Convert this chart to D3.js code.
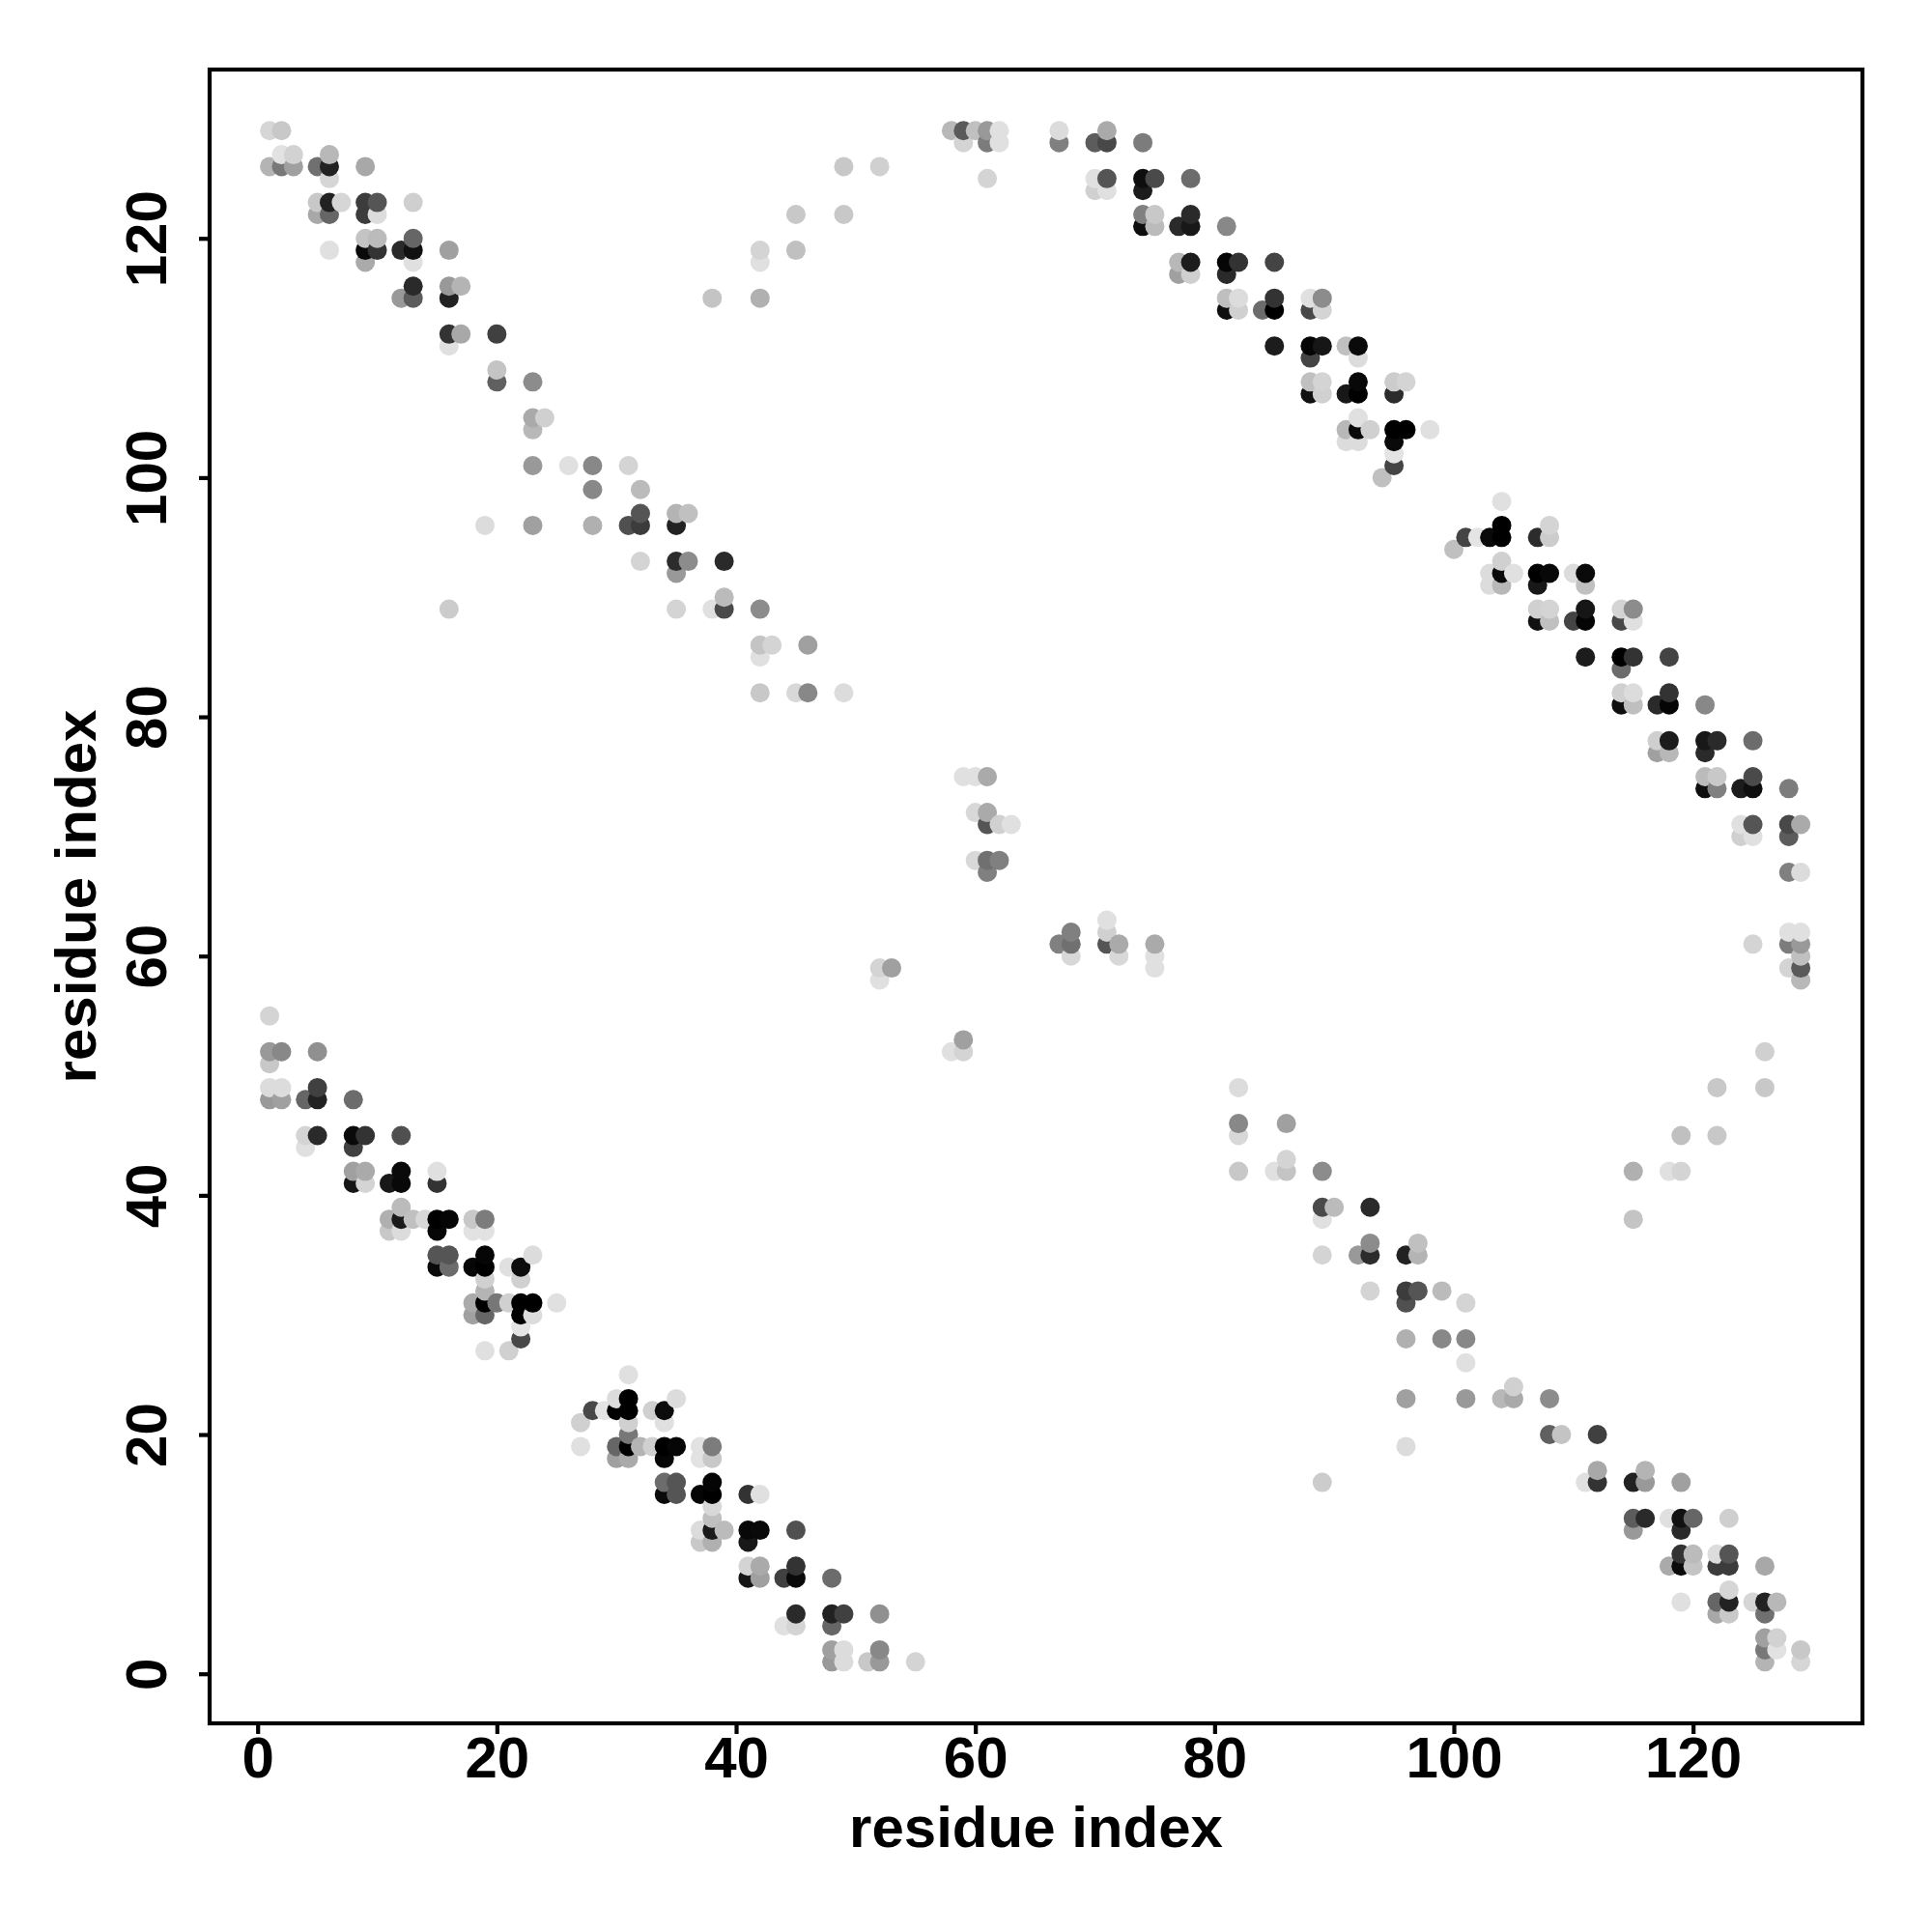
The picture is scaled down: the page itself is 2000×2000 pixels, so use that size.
<!DOCTYPE html>
<html>
<head>
<meta charset="utf-8">
<script src="https://cdn.jsdelivr.net/npm/d3@7"></script>
<style>html,body{margin:0;padding:0;background:#fff}svg{display:block}</style>
</head>
<body>
<svg id="chart" width="2000" height="2000"></svg>
<script>
// Each contact is [residue i, residue j, grey level]. The map is symmetric: each is also drawn at (j, i).
const contactsInnerBand = [
[1,55,212],[1,52,153],[2,52,136],[5,52,144],[1,51,200],[1,49,220],[2,49,220],[5,49,64],[1,48,153],[2,48,160],[4,48,102],[5,48,34],[8,48,108],
[4,45,212],[5,45,42],[8,45,10],[9,45,51],[12,45,80],[4,44,224],[8,44,64],[8,42,160],[9,42,170],[12,42,10],[15,42,224],[8,41,22],[9,41,212],[11,41,24],[12,41,8],[15,41,51],
[12,39,187],[11,38,176],[12,38,26],[13,38,192],[14,38,216],[15,38,0],[16,38,5],[18,38,200],[19,38,124],[11,37,200],[12,37,220],[15,37,6],[18,37,226],[19,37,226],
[15,35,85],[16,35,85],[19,35,6],[23,35,220],[15,34,10],[16,34,108],[18,34,6],[19,34,0],[21,34,224],[22,34,12],[19,33,208],[22,33,208],[19,32,180],
[18,31,170],[19,31,0],[20,31,119],[21,31,208],[22,31,0],[23,31,0],[25,31,224],[18,30,160],[19,30,102],[22,30,0],[23,30,220],[22,29,228],[22,28,72],[19,27,224],[21,27,208]
];
const contactsOuterBand = [
[1,129,214],[2,129,200],[2,127,226],[3,127,210],[6,127,184],[1,126,180],[2,126,120],[3,126,160],[5,126,112],[6,126,34],[9,126,168],[49,126,200],[52,126,208],[6,125,214],
[5,123,200],[6,123,34],[7,123,214],[9,123,60],[10,123,85],[13,123,207],[5,122,168],[6,122,102],[9,122,60],[10,122,220],[45,122,200],[49,122,200],
[9,120,196],[10,120,187],[13,120,102],[6,119,224],[9,119,10],[10,119,51],[12,119,42],[13,119,17],[16,119,160],[42,119,212],[45,119,192],[9,118,170],[13,118,224],[42,118,224],
[13,116,42],[16,116,153],[17,116,180],[12,115,153],[13,115,92],[16,115,34],[38,115,196],[42,115,176],[16,112,51],[17,112,168],[20,112,64],[16,111,224],
[20,109,196],[20,108,96],[23,108,140],[23,105,170],[24,105,208],[23,104,184],[23,101,153],[26,101,224],[28,101,136],[31,101,212],[28,99,136],[32,99,187],
[32,97,85],[35,97,180],[36,97,192],[19,96,220],[23,96,160],[28,96,176],[31,96,80],[32,96,60],[35,96,34],[32,93,212],[35,93,44],[36,93,140],[39,93,42],[35,92,153],[39,90,187],
[16,89,204],[35,89,212],[38,89,224],[39,89,74],[42,89,140],[42,86,196],[43,86,212],[46,86,160],[42,85,224],[42,82,200],[45,82,216],[46,82,136],[49,82,220]
];
const contactsUpperBand = [
[58,129,184],[59,129,90],[60,129,192],[61,129,153],[62,129,224],[67,129,220],[71,129,170],[59,128,212],[61,128,124],[62,128,224],[67,128,128],[70,128,92],[71,128,72],[74,128,124],
[61,125,212],[70,125,224],[71,125,85],[74,125,14],[75,125,74],[78,125,108],[70,124,208],[71,124,224],[74,124,28],[74,122,128],[75,122,200],[78,122,42],[74,121,14],[75,121,187],[77,121,42],[78,121,24],[81,121,136],
[77,118,184],[78,118,28],[81,118,5],[82,118,51],[85,118,68],[77,117,160],[78,117,207],[81,117,42],[81,115,191],[82,115,220],[85,115,51],[88,115,224],[89,115,140],[81,114,14],[82,114,208],[84,114,108],[85,114,0],[88,114,72],[89,114,212],
[85,111,28],[88,111,5],[89,111,22],[91,111,192],[92,111,10],[88,110,68],[92,110,220],[88,108,192],[89,108,212],[92,108,8],[95,108,204],[96,108,212],[88,107,17],[89,107,208],[91,107,24],[92,107,0],[95,107,44],
[92,105,224],[91,104,184],[92,104,10],[93,104,208],[95,104,0],[96,104,0],[98,104,224],[91,103,220],[92,103,220],[95,103,10],[95,102,228],[95,101,68],[94,100,192]
];
const contactsMiddle = [
[59,75,224],[60,75,224],[61,75,170],[60,72,216],[61,72,170],[61,71,85],[62,71,208],[63,71,224],[60,68,216],[61,68,112],[62,68,128],[61,67,128],[52,59,212],[53,59,160],[52,58,224]
];
const tickValues = [0,20,40,60,80,100,120];
const xLabel = "residue index";
const yLabel = "residue index";

const upper = [...contactsInnerBand, ...contactsOuterBand, ...contactsUpperBand, ...contactsMiddle];
const points = upper.concat(upper.map(([i,j,g]) => [j,i,g]))
  .sort((a,b) => d3.ascending(a[0],b[0]) || d3.ascending(a[1],b[1]));

const frame = {left:217, right:1938, top:72, bottom:1784};
frame.right = 1938 - 10;
const unit = 12.383, x0 = 266.7, y0 = 1732.7;
const x = d3.scaleLinear().domain([(frame.left-x0)/unit,(frame.right-x0)/unit]).range([frame.left,frame.right]);
const y = d3.scaleLinear().domain([(y0-frame.bottom)/unit,(y0-frame.top)/unit]).range([frame.bottom,frame.top]);
const font = '"Liberation Sans", Arial, sans-serif';
const svg = d3.select("#chart");
svg.append("rect").attr("width",2000).attr("height",2000).attr("fill","#fff");

svg.append("g").selectAll("circle").data(points).join("circle")
  .attr("cx",d=>x(d[0])).attr("cy",d=>y(d[1])).attr("r",10)
  .attr("fill",d=>d3.rgb(d[2],d[2],d[2]).formatHex());

const ax = svg.append("g").attr("transform",`translate(0,${frame.bottom})`)
  .call(d3.axisBottom(x).tickValues(tickValues).tickSize(11).tickPadding(12));
const ay = svg.append("g").attr("transform",`translate(${frame.left},0)`)
  .call(d3.axisLeft(y).tickValues(tickValues).tickSize(11));
[ax,ay].forEach(a=>{
  a.select(".domain").remove();
  a.selectAll(".tick line").attr("stroke","#000").attr("stroke-width",4.2);
  a.selectAll(".tick text").attr("fill","#000").attr("font-family",font).attr("font-weight","700").attr("font-size",60);
});
ax.selectAll(".tick text").attr("dy",null).attr("y",null)
  .attr("text-anchor","middle").attr("dominant-baseline","auto").attr("transform","translate(0,56)");
ay.selectAll(".tick text").attr("x",null).attr("dy",null).attr("text-anchor","middle")
  .attr("transform",`translate(${172-frame.left},0) rotate(-90)`);

svg.append("rect").attr("x",frame.left).attr("y",frame.top)
  .attr("width",frame.right-frame.left).attr("height",frame.bottom-frame.top)
  .attr("fill","none").attr("stroke","#000").attr("stroke-width",4.2);

svg.append("text").attr("x",(frame.left+frame.right)/2).attr("y",1912).attr("text-anchor","middle")
  .attr("font-family",font).attr("font-weight","700").attr("font-size",60).attr("fill","#000").text(xLabel);
svg.append("text").attr("transform",`translate(99,${(frame.top+frame.bottom)/2}) rotate(-90)`).attr("text-anchor","middle")
  .attr("font-family",font).attr("font-weight","700").attr("font-size",60).attr("fill","#000").text(yLabel);
</script>
</body>
</html>
